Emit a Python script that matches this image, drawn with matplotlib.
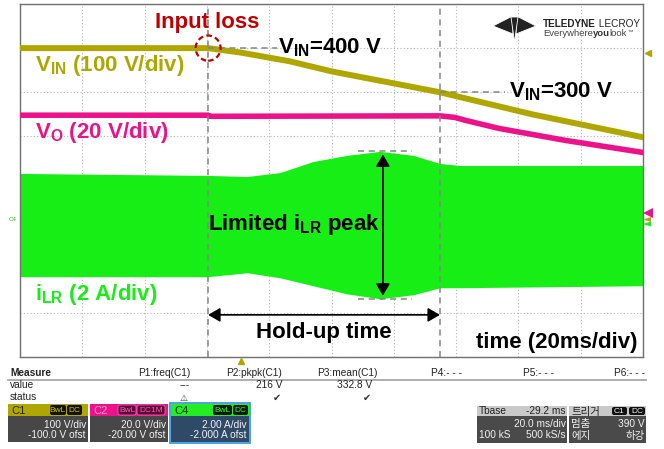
import matplotlib
matplotlib.use("Agg")
import matplotlib.pyplot as plt
from matplotlib.patches import Ellipse, Rectangle, Polygon, FancyBboxPatch
from matplotlib.transforms import offset_copy
import numpy as np

plt.rcParams['font.family'] = ['Liberation Sans', 'DejaVu Sans']
plt.rcParams['mathtext.fontset'] = 'custom'
plt.rcParams['mathtext.rm'] = 'Liberation Sans'
plt.rcParams['mathtext.bf'] = 'Liberation Sans:bold'
plt.rcParams['mathtext.it'] = 'Liberation Sans:italic'

# scope settings
t_per_div = 20.0           # ms/div
t_center = 29.2            # ms after trigger at screen centre
ch1_scale, ch1_ofst = 100.0, -100.0   # V/div, V
ch2_scale, ch2_ofst = 20.0, -20.0     # V/div, V
ch4_scale, ch4_ofst = 2.0, -2.0       # A/div, A
trig_level = 390.0         # V, C1 falling edge

# cursors (ms)
t_loss = -10.4
t_end = 64.0

# V_IN (C1), volts
vin_t = [-70.8, -10.4, 0.0, 15.9, 29.4, 64.0, 93.6, 129.2]
vin_v = [400, 400, 390, 370, 347, 300, 250, 198]

# V_O (C2), volts
vo_t = [-70.8, -10.4, -10.0, 64.0, 68.8, 72.1, 83.0, 104.2, 129.2]
vo_v = [49.6, 49.6, 49.1, 49.3, 48.6, 47.3, 43.6, 38.2, 32.7]

# i_LR envelope (C4), amps
ilr_t = [-70.8, -10.4, 2.1, 12.7, 23.3, 34.2, 44.8, 55.4, 64.0, 70.5, 129.2]
ilr_top = [2.32, 2.23, 2.18, 2.36, 2.86, 3.14, 3.32, 3.14, 2.77, 2.68, 2.68]
ilr_bot = [-2.36, -2.36, -2.18, -2.41, -2.77, -3.14, -3.36, -3.18, -2.86, -2.86, -2.77]

# measurement table
meas_names = ["P1:freq(C1)", "P2:pkpk(C1)", "P3:mean(C1)", "P4:- - -", "P5:- - -", "P6:- - -"]
meas_values = ["---", "216 V", "332.8 V"]

OLIVE = '#b0a600'
PINK = '#ec1289'
GREEN = '#16ee16'
DRED = '#c00000'


def to_div(v, scale, ofst):
    return (np.asarray(v, dtype=float) + ofst) / scale


W, H = 664, 449
fig = plt.figure(figsize=(W / 100, H / 100), dpi=100)
ax = fig.add_axes([20 / W, 1 - 357 / H, 623 / W, 353 / H])
xmin, xmax = t_center - 5 * t_per_div, t_center + 5 * t_per_div
ax.set_xlim(xmin, xmax)
ax.set_ylim(-4, 4)
ax.set_xticks(xmin + t_per_div * np.arange(11))
ax.set_yticks(np.arange(-4, 5))
ax.tick_params(length=0, labelbottom=False, labelleft=False)
ax.grid(True, color='#b5b5b5', lw=0.8, linestyle=(0, (1, 2)))
ax.set_axisbelow(True)
for s in ax.spines.values():
    s.set_color('#707070')
    s.set_linewidth(1.0)

# traces
ax.fill_between(ilr_t, to_div(ilr_top, ch4_scale, ch4_ofst), to_div(ilr_bot, ch4_scale, ch4_ofst),
                color=GREEN, lw=0, zorder=2)
ax.plot(vo_t, to_div(vo_v, ch2_scale, ch2_ofst), color=PINK, lw=4.0, zorder=3)
ax.plot(vin_t, to_div(vin_v, ch1_scale, ch1_ofst), color=OLIVE, lw=4.3, zorder=3)

# cursors and guides
dash = (0, (4, 3))
for tc in (t_loss, t_end):
    ax.axvline(tc, color='#858585', lw=1.1, ls=dash, zorder=4)
ax.plot([t_loss, 11.8], [to_div(400, ch1_scale, ch1_ofst)] * 2, color='#858585', lw=1.1, ls=dash, zorder=4)
ax.plot([t_end, 85.0], [to_div(300, ch1_scale, ch1_ofst)] * 2, color='#858585', lw=1.1, ls=dash, zorder=4)
pk_top = to_div(max(ilr_top), ch4_scale, ch4_ofst)
pk_bot = to_div(min(ilr_bot), ch4_scale, ch4_ofst)
for yy in (pk_top, pk_bot):
    ax.plot([37.7, 55.0], [yy, yy], color='#858585', lw=1.1, ls=dash, zorder=4)

ax.add_patch(Ellipse((t_loss, to_div(400, ch1_scale, ch1_ofst)), 8.0, 0.57, fill=False,
                     ec=DRED, lw=1.6, ls=(0, (2.5, 1.5)), zorder=6))

ap = dict(arrowstyle='<|-|>,head_length=0.6,head_width=0.35', color='black', lw=1.2,
          mutation_scale=12, shrinkA=0, shrinkB=0)
ax.annotate('', xy=(45.7, pk_top - 0.07), xytext=(45.7, pk_bot + 0.07), arrowprops=ap, zorder=7)
ax.annotate('', xy=(t_loss, -3.045), xytext=(t_end, -3.045), arrowprops=ap, zorder=7)

big = dict(fontsize=16, fontweight='bold', va='baseline', zorder=8)
ax.text(t_loss - 0.2, 3.455, 'Input loss', color=DRED, ha='center', **big)
ax.text(12.0, 2.886, r'$\mathbf{V_{IN}}$=400 V', color='black', ha='left', **big)
ax.text(-66.0, 2.477, r'$\mathbf{V_{IN}}$ (100 V/div)', color=OLIVE, ha='left', **big)
ax.text(-66.0, 0.955, r'$\mathbf{V_{O}}$ (20 V/div)', color=PINK, ha='left', **big)
ax.text(86.2, 1.886, r'$\mathbf{V_{IN}}$=300 V', color='black', ha='left', **big)
ax.text(t_loss, -1.114, r'Limited $\mathbf{i_{LR}}$ peak', color='black', ha='left', **big)
ax.text(-66.0, -2.705, r'$\mathbf{i_{LR}}$ (2 A/div)', color=GREEN, ha='left', **big)
ax.text((t_loss + t_end) / 2, -3.568, 'Hold-up time', color='black', ha='center', **big)
ax.text(127.3, -3.795, 'time (20ms/div)', color='black', ha='right', **big)

# trigger markers
tr_r = offset_copy(ax.transData, fig=fig, x=5, y=0, units='dots')
ax.plot(xmax, to_div(trig_level, ch1_scale, ch1_ofst), marker='<', ms=5, color=OLIVE,
        transform=tr_r, clip_on=False, zorder=9)
tr_b = offset_copy(ax.transData, fig=fig, x=0, y=-4, units='dots')
ax.plot(0, -4, marker='^', ms=5, color=OLIVE, transform=tr_b, clip_on=False, zorder=9)

# ---- UI overlay in pixel coordinates ----
ui = fig.add_axes([0, 0, 1, 1], zorder=5)
ui.set_xlim(0, W)
ui.set_ylim(H, 0)
ui.axis('off')


def rect(x0, y0, x1, y1, fc, ec='none', lw=0):
    ui.add_patch(Rectangle((x0, y0), x1 - x0, y1 - y0, fc=fc, ec=ec, lw=lw))


def badge(x0, x1, y0, y1, s, fg, bg, ec='none'):
    ui.add_patch(FancyBboxPatch((x0, y0), x1 - x0, y1 - y0, boxstyle='round,pad=0,rounding_size=2',
                                fc=bg, ec=ec, lw=0.6))
    ui.text((x0 + x1) / 2, (y0 + y1) / 2 + 0.5, s, color=fg, fontsize=6, ha='center', va='center')


def chain(prev, s, **kw):
    # place text right after the previous one on the same baseline
    return ui.annotate(s, xy=(1, 0), xycoords=prev, ha='left', va='bottom', **kw)


# ground markers on the right
ui.add_patch(Polygon([(643, 213), (653, 208), (653, 218)], fc=PINK, ec='none'))
ui.add_patch(Polygon([(643, 219.5), (651, 217), (651, 222)], fc='#c89a20', ec='none'))
ui.add_patch(Polygon([(643, 224), (651, 221.5), (651, 226.5)], fc=GREEN, ec='none'))
ui.text(8.5, 221, 'C4', color='#22bb22', fontsize=4.5)

# logo
ui.add_patch(Polygon([(493, 26), (512.5, 16), (513, 34)], fc='#222', ec='white', lw=0.6))
ui.add_patch(Polygon([(536, 26), (516.5, 16), (516, 34)], fc='#222', ec='white', lw=0.6))
ui.add_patch(Polygon([(511, 17), (518, 17), (514.5, 42)], fc='#222', ec='white', lw=0.6))
t1 = ui.text(543, 27, 'TELEDYNE', color='#222', fontsize=7.2, fontweight='bold', va='baseline')
chain(t1, ' LECROY', color='#222', fontsize=7.2)
e1 = ui.text(543, 36.5, 'Everywhere', color='#444', fontsize=6.8, va='baseline')
e2 = chain(e1, 'you', color='#333', fontsize=6.8, fontweight='bold')
e3 = chain(e2, 'look', color='#444', fontsize=6.8)
ui.annotate('\u2122', xy=(1, 1), xycoords=e3, ha='left', va='top', color='#444', fontsize=4)

# measure table
ui.text(10, 376, 'Measure', fontsize=7.3, fontweight='bold', color='#222', va='baseline')
col_x = [190, 282, 377, 462, 554, 645]
for cx, name in zip(col_x, meas_names):
    ui.text(cx, 376, name, fontsize=7.3, color='#222', ha='right', va='baseline')
ui.plot([8, 646], [379.5, 379.5], color='#a8a8a8', lw=1.3)
ui.text(10, 388.5, 'value', fontsize=7.3, color='#222', va='baseline')
for cx, val in zip([190, 282, 372], meas_values):
    ui.text(cx, 388.5, val, fontsize=7.3, color='#222', ha='right', va='baseline')
ui.text(10, 400.5, 'status', fontsize=7.3, color='#222', va='baseline')
ui.text(184, 400.5, '\u26a0', fontsize=6.5, color='#444', ha='center', va='baseline', family='DejaVu Sans')
for cx in (277, 367):
    ui.text(cx, 400.5, '\u2714', fontsize=7, color='#333', ha='center', va='baseline', family='DejaVu Sans')

# channel boxes
small = dict(fontsize=7.3, va='baseline')
rect(8, 404, 88, 416, OLIVE)
rect(8, 416, 88, 442, '#474747')
ui.text(11, 414.5, 'C1', color='#2a2800', fontsize=8, va='baseline')
badge(50, 66, 405, 415, 'BwL', '#d8c800', '#111')
badge(67, 82, 405, 415, 'DC', '#d8c800', '#111')
ui.text(86, 428, '100 V/div', color='#f2f2f2', ha='right', **small)
ui.text(86, 438.5, '-100.0 V ofst', color='#f2f2f2', ha='right', **small)

rect(90, 404, 168, 416, PINK)
rect(90, 416, 168, 442, '#474747')
ui.text(93, 414.5, 'C2', color='#ff9ad0', fontsize=8, va='baseline')
badge(118, 136, 405, 415, 'BwL', '#ff5ab8', '#5a0a36', ec='#ff5ab8')
badge(137, 165, 405, 415, 'DC1M', '#ff5ab8', '#5a0a36', ec='#ff5ab8')
ui.text(166, 428, '20.0 V/div', color='#f2f2f2', ha='right', **small)
ui.text(166, 438.5, '-20.00 V ofst', color='#f2f2f2', ha='right', **small)

rect(170, 403, 250, 443, 'none', ec='#3a9ae0', lw=1.3)
rect(171, 404, 249, 416, '#22ee22')
rect(171, 416, 249, 442, '#2f4a66')
ui.text(174, 414.5, 'C4', color='#0a300a', fontsize=8, va='baseline')
badge(213, 232, 405, 415, 'BwL', '#33ff33', '#0a160a')
badge(233, 248, 405, 415, 'DC', '#33ff33', '#0a160a')
ui.text(247, 428, '2.00 A/div', color='#f2f2f2', ha='right', **small)
ui.text(247, 438.5, '-2.000 A ofst', color='#f2f2f2', ha='right', **small)

# timebase / trigger boxes
rect(477, 406, 567, 416, '#c9c9c9')
rect(477, 416, 567, 443, '#4a4a4a')
ui.text(479, 414.5, 'Tbase', color='#222', **small)
ui.text(566, 414.5, '-29.2 ms', color='#222', ha='right', **small)
ui.text(566, 427, '20.0 ms/div', color='#f2f2f2', ha='right', **small)
ui.text(479, 438.5, '100 kS', color='#f2f2f2', **small)
ui.text(566, 438.5, '500 kS/s', color='#f2f2f2', ha='right', **small)

kr = dict(fontsize=7.5, va='baseline', family=['Noto Sans CJK KR', 'DejaVu Sans'])
rect(569, 406, 646, 416, '#c9c9c9')
rect(569, 416, 646, 443, '#4a4a4a')
ui.text(571, 415, '트리거', color='#222', **kr)
badge(612, 627, 407, 415, 'C1', '#f2f2f2', '#111')
badge(629, 645, 407, 415, 'DC', '#f2f2f2', '#111')
ui.text(571, 427.5, '멈춤', color='#f2f2f2', **kr)
ui.text(645, 427, '390 V', color='#f2f2f2', ha='right', **small)
ui.text(571, 439.5, '에지', color='#f2f2f2', **kr)
ui.text(645, 439.5, '하강', color='#f2f2f2', ha='right', **kr)

fig.savefig('out.png', dpi=100)
